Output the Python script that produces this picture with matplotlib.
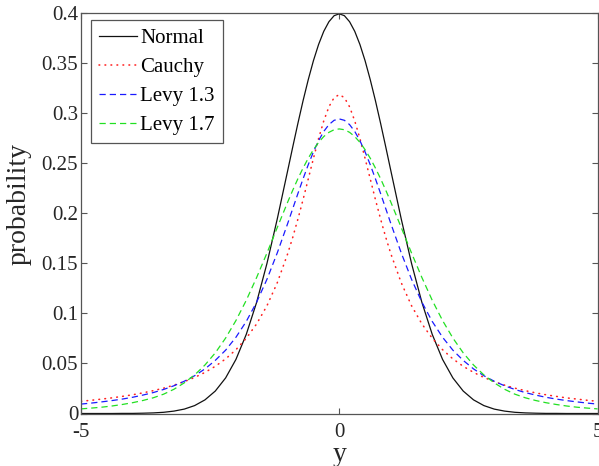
import matplotlib
matplotlib.use("Agg")
import matplotlib.pyplot as plt

plt.rcParams['font.family'] = ['Liberation Serif', 'DejaVu Serif']
plt.rcParams['axes.unicode_minus'] = False

# ---- data ----
x = [-5.0, -4.8, -4.6, -4.4, -4.2, -4.0, -3.8, -3.6, -3.4, -3.2, -3.0, -2.8, -2.6, -2.4,
     -2.2, -2.0, -1.8, -1.6, -1.4, -1.2, -1.0, -0.9, -0.8, -0.7, -0.6, -0.5, -0.4, -0.3,
     -0.2, -0.1, 0.0, 0.1, 0.2, 0.3, 0.4, 0.5, 0.6, 0.7, 0.8, 0.9, 1.0, 1.2, 1.4, 1.6,
     1.8, 2.0, 2.2, 2.4, 2.6, 2.8, 3.0, 3.2, 3.4, 3.6, 3.8, 4.0, 4.2, 4.4, 4.6, 4.8, 5.0]

normal = [0.0000, 0.0000, 0.0000, 0.0000, 0.0001, 0.0001, 0.0003, 0.0006, 0.0012, 0.0024,
          0.0044, 0.0079, 0.0136, 0.0224, 0.0355, 0.0540, 0.0790, 0.1109, 0.1497, 0.1942,
          0.2420, 0.2661, 0.2897, 0.3123, 0.3332, 0.3521, 0.3683, 0.3814, 0.3910, 0.3970,
          0.3989,
          0.3970, 0.3910, 0.3814, 0.3683, 0.3521, 0.3332, 0.3123, 0.2897, 0.2661, 0.2420,
          0.1942, 0.1497, 0.1109, 0.0790, 0.0540, 0.0355, 0.0224, 0.0136, 0.0079, 0.0044,
          0.0024, 0.0012, 0.0006, 0.0003, 0.0001, 0.0001, 0.0000, 0.0000, 0.0000, 0.0000]

cauchy = [0.0122, 0.0132, 0.0144, 0.0156, 0.0171, 0.0187, 0.0206, 0.0228, 0.0253, 0.0283,
          0.0318, 0.0360, 0.0410, 0.0471, 0.0545, 0.0637, 0.0751, 0.0894, 0.1075, 0.1305,
          0.1592, 0.1759, 0.1941, 0.2136, 0.2341, 0.2546, 0.2744, 0.2920, 0.3061, 0.3152,
          0.3183,
          0.3152, 0.3061, 0.2920, 0.2744, 0.2546, 0.2341, 0.2136, 0.1941, 0.1759, 0.1592,
          0.1305, 0.1075, 0.0894, 0.0751, 0.0637, 0.0545, 0.0471, 0.0410, 0.0360, 0.0318,
          0.0283, 0.0253, 0.0228, 0.0206, 0.0187, 0.0171, 0.0156, 0.0144, 0.0132, 0.0122]

levy13 = [0.0094, 0.0104, 0.0116, 0.0129, 0.0144, 0.0162, 0.0184, 0.0209, 0.0240, 0.0277,
          0.0322, 0.0377, 0.0445, 0.0530, 0.0632, 0.0761, 0.0919, 0.1111, 0.1339, 0.1603,
          0.1894, 0.2045, 0.2196, 0.2343, 0.2483, 0.2611, 0.2723, 0.2815, 0.2883, 0.2926,
          0.2940,
          0.2926, 0.2883, 0.2815, 0.2723, 0.2611, 0.2483, 0.2343, 0.2196, 0.2045, 0.1894,
          0.1603, 0.1339, 0.1111, 0.0919, 0.0761, 0.0632, 0.0530, 0.0445, 0.0377, 0.0322,
          0.0277, 0.0240, 0.0209, 0.0184, 0.0162, 0.0144, 0.0129, 0.0116, 0.0104, 0.0094]

levy17 = [0.0046, 0.0054, 0.0063, 0.0075, 0.0090, 0.0108, 0.0130, 0.0157, 0.0193, 0.0242,
          0.0306, 0.0385, 0.0484, 0.0605, 0.0753, 0.0928, 0.1130, 0.1357, 0.1601, 0.1856,
          0.2108, 0.2229, 0.2344, 0.2450, 0.2548, 0.2633, 0.2706, 0.2764, 0.2806, 0.2832,
          0.2840,
          0.2832, 0.2806, 0.2764, 0.2706, 0.2633, 0.2548, 0.2450, 0.2344, 0.2229, 0.2108,
          0.1856, 0.1601, 0.1357, 0.1130, 0.0928, 0.0753, 0.0605, 0.0484, 0.0385, 0.0306,
          0.0242, 0.0193, 0.0157, 0.0130, 0.0108, 0.0090, 0.0075, 0.0063, 0.0054, 0.0046]

series_labels = ['Normal', 'Cauchy', 'Levy 1.3', 'Levy 1.7']
xticks = [-5, 0, 5]
xtick_labels = ['-5', '0', '5']
yticks = [0, 0.05, 0.1, 0.15, 0.2, 0.25, 0.3, 0.35, 0.4]
ytick_labels = ['0', '0.05', '0.1', '0.15', '0.2', '0.25', '0.3', '0.35', '0.4']

# ---- figure ----
W, H = 599, 466
fig = plt.figure(figsize=(W / 100, H / 100), dpi=100)
left, right, top, bottom = 81, 597.5, 12.7, 413.5
ax = fig.add_axes([left / W, (H - bottom) / H, (right - left) / W, (bottom - top) / H])

ax.plot(x, normal, color='#111111', lw=0.9, label=series_labels[0])
ax.plot(x, cauchy, color='#ff2020', lw=1.15, linestyle=(0, (0.45, 3.3)),
        dash_capstyle='round', label=series_labels[1])
ax.plot(x, levy13, color='#1a1aff', lw=0.9, linestyle=(0, (5.0, 3.2)),
        label=series_labels[2])
ax.plot(x, levy17, color='#22e022', lw=0.9, linestyle=(0, (5.0, 3.2)),
        label=series_labels[3])

ax.set_xlim(-5, 5)
ax.set_ylim(0, 0.4)
ax.set_xticks(xticks)
ax.set_xticklabels(xtick_labels)
ax.set_yticks(yticks)
ax.set_yticklabels(ytick_labels)

axis_col = '#555555'
for s in ax.spines.values():
    s.set_color(axis_col)
    s.set_linewidth(0.9)
ax.tick_params(axis='both', direction='in', length=4.5, width=0.8, color=axis_col,
               top=True, right=True, labelsize=15, labelcolor='#262626')
ax.tick_params(axis='x', pad=7)
ax.tick_params(axis='y', pad=2)

ax.set_xlabel('y', fontsize=20, color='#262626', labelpad=0)
ax.set_ylabel('probability', fontsize=20, color='#262626')
ax.yaxis.set_label_coords(-0.095, 0.523)

leg = ax.legend(loc='upper left', bbox_to_anchor=((91 - left) / (right - left), (bottom - 20) / (bottom - top)),
                borderaxespad=0, fontsize=15, frameon=True, fancybox=False,
                framealpha=1, edgecolor=axis_col, handlelength=1.8, handletextpad=0.15,
                labelspacing=0.45, borderpad=0.4)
leg.get_frame().set_linewidth(0.9)

fig.savefig('out.png', dpi=100)
